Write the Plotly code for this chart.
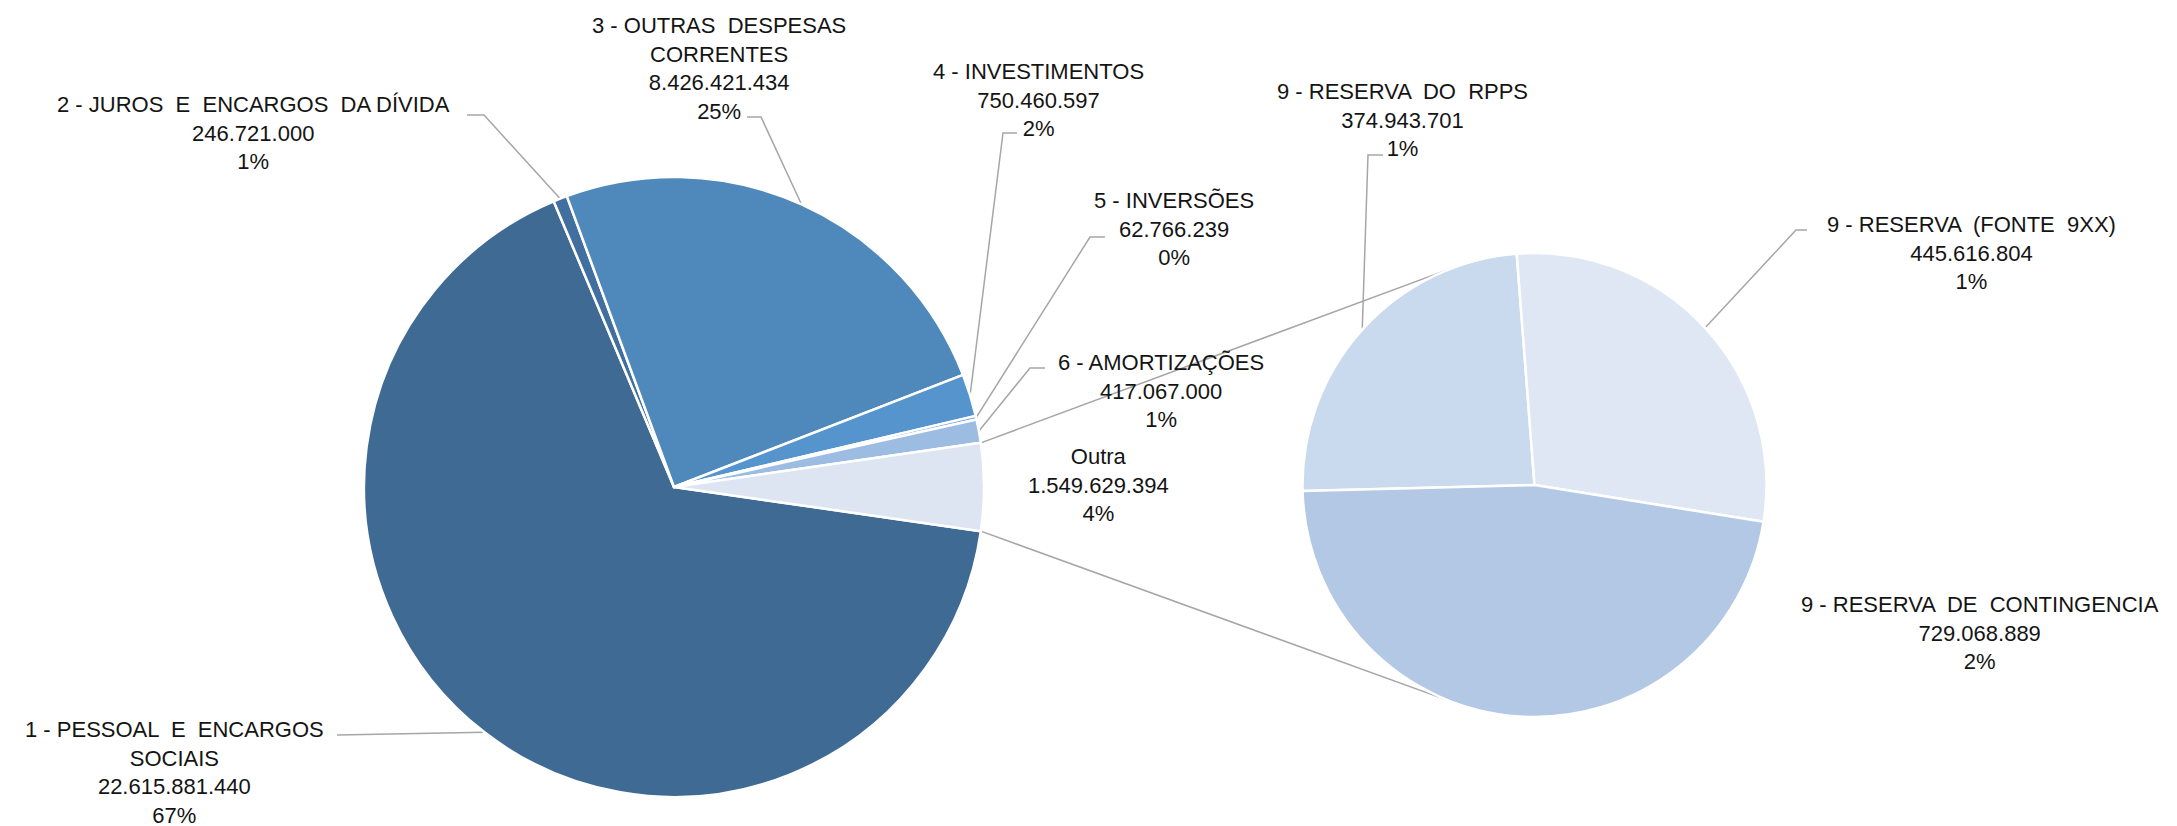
import math
import plotly.graph_objects as go

# main pie
main_labels = [
    "1 - PESSOAL E ENCARGOS SOCIAIS",
    "2 - JUROS E ENCARGOS DA DÍVIDA",
    "3 - OUTRAS DESPESAS CORRENTES",
    "4 - INVESTIMENTOS",
    "5 - INVERSÕES",
    "6 - AMORTIZAÇÕES",
    "Outra",
]
main_values = [22615881440, 246721000, 8426421434, 750460597, 62766239, 417067000, 1549629394]
main_pct = ["67%", "1%", "25%", "2%", "0%", "1%", "4%"]
main_colors = ["#3E6A94", "#4170A0", "#4F88BB", "#5594CD", "#7FA9D8", "#9DBCE2", "#DDE5F2"]

# second pie (detail of "Outra")
sub_labels = [
    "9 - RESERVA DO RPPS",
    "9 - RESERVA (FONTE 9XX)",
    "9 - RESERVA DE CONTINGENCIA",
]
sub_values = [374943701, 445616804, 729068889]
sub_pct = ["1%", "1%", "2%"]
sub_colors = ["#C9D9EE", "#DFE7F4", "#B3C8E5"]

W, H = 2177, 826
OFF = 8  # page body margin, positions below are page pixels
MAIN_C, MAIN_R = (674, 487), 310
SUB_C, SUB_R = (1534.5, 485), 232


def fmt(v):
    return f"{v:,}".replace(",", ".")


def px(x, y):
    return (x - OFF) / W, 1 - (y - OFF) / H


def domain(c, r):
    x0, y1 = px(c[0] - r, c[1] - r)
    x1, y0 = px(c[0] + r, c[1] + r)
    return dict(x=[x0, x1], y=[y0, y1])


# rotations: "Outra" centred on the right side, like Excel's pie of pie
main_total = sum(main_values)
main_rot = 90 + 180 * main_values[-1] / main_total
sub_total = sum(sub_values)
sub_rot = -4.4 - 360 * sub_values[0] / sub_total


def slice_point(values, rot, idx, c, r, frac=0.5):
    total = sum(values)
    cum = sum(values[:idx]) + values[idx] * frac
    th = math.radians(rot + 360 * cum / total)
    return c[0] + r * math.sin(th), c[1] - r * math.cos(th)


fig = go.Figure()
fig.add_trace(go.Pie(
    labels=main_labels, values=main_values, sort=False, direction="clockwise",
    rotation=main_rot, textinfo="none", domain=domain(MAIN_C, MAIN_R),
    marker=dict(colors=main_colors, line=dict(color="white", width=2.5)),
))
fig.add_trace(go.Pie(
    labels=sub_labels, values=sub_values, sort=False, direction="clockwise",
    rotation=sub_rot, textinfo="none", domain=domain(SUB_C, SUB_R),
    marker=dict(colors=sub_colors, line=dict(color="white", width=2.5)),
))

font = dict(family="Liberation Sans, Arial, sans-serif", size=22, color="#141414")
line_style = dict(color="#A6A6A6", width=1.5)

# label text placement (label centre, leader elbow points)
main_text = [
    "1 - PESSOAL  E  ENCARGOS<br>SOCIAIS",
    "2 - JUROS  E  ENCARGOS  DA DÍVIDA",
    "3 - OUTRAS  DESPESAS<br>CORRENTES",
    "4 - INVESTIMENTOS",
    "5 - INVERSÕES",
    "6 - AMORTIZAÇÕES",
    "Outra",
]
main_pos = [(174, 772), (253, 133), (719, 69), (1038, 100), (1174, 229), (1161, 391), (1098, 485)]
main_leader = [
    [(337, 735)],
    [(467, 115), (484, 115)],
    [(747, 117), (761, 117)],
    [(1017, 133), (1003, 133)],
    [(1105, 237), (1090, 237)],
    [(1045, 368), (1030, 368)],
    None,
]
sub_text = ["9 - RESERVA  DO  RPPS", "9 - RESERVA  (FONTE  9XX)", "9 - RESERVA  DE  CONTINGENCIA"]
sub_pos = [(1402, 120), (1972, 253), (1980, 633)]
sub_leader = [
    [(1383, 155), (1368, 155)],
    [(1807, 230), (1796, 230)],
    None,
]


def add_label(text, value, pct, pos):
    x, y = px(*pos)
    fig.add_annotation(
        text=f"{text}<br>{fmt(value)}<br>{pct}", x=x, y=y, xref="paper", yref="paper",
        xanchor="center", yanchor="middle", showarrow=False, font=font,
    )


def add_path(points):
    d = ""
    for i, (x, y) in enumerate(points):
        u, v = px(x, y)
        d += ("M" if i == 0 else "L") + f"{u:.5f},{v:.5f} "
    fig.add_shape(type="path", path=d, xref="paper", yref="paper", line=line_style, layer="below")


for i in range(len(main_labels)):
    add_label(main_text[i], main_values[i], main_pct[i], main_pos[i])
    if main_leader[i]:
        add_path(main_leader[i] + [slice_point(main_values, main_rot, i, MAIN_C, MAIN_R)])

for i in range(len(sub_labels)):
    add_label(sub_text[i], sub_values[i], sub_pct[i], sub_pos[i])
    if sub_leader[i]:
        add_path(sub_leader[i] + [slice_point(sub_values, sub_rot, i, SUB_C, SUB_R)])

# connector lines between "Outra" and the second pie
last = len(main_values) - 1
top_main = slice_point(main_values, main_rot, last, MAIN_C, MAIN_R, frac=0.0)
bot_main = slice_point(main_values, main_rot, last, MAIN_C, MAIN_R, frac=1.0)
for p, ang in [(top_main, 339), (bot_main, 201)]:
    th = math.radians(ang)
    q = (SUB_C[0] + SUB_R * math.sin(th), SUB_C[1] - SUB_R * math.cos(th))
    add_path([p, q])

fig.update_layout(
    width=W, height=H, showlegend=False,
    margin=dict(l=0, r=0, t=0, b=0),
    paper_bgcolor="white", plot_bgcolor="white",
)

fig.write_html("out.html")
